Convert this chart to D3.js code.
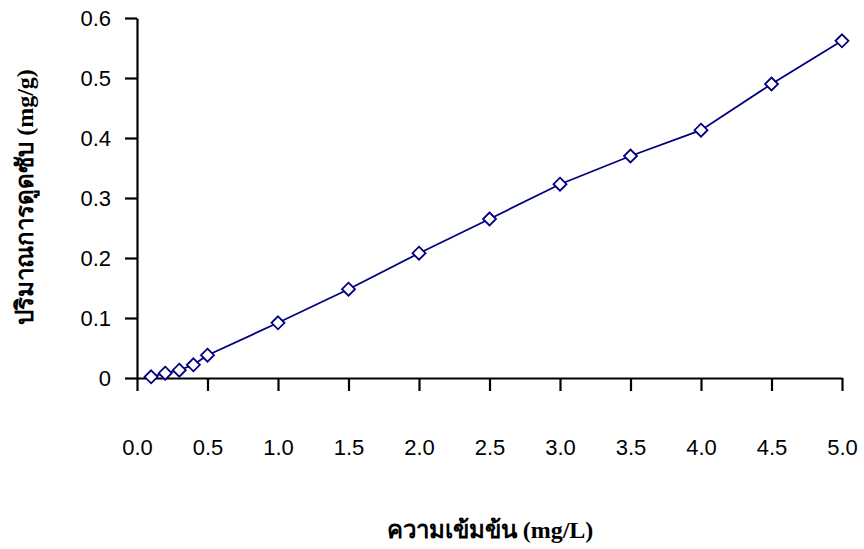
<!DOCTYPE html>
<html>
<head>
<meta charset="utf-8">
<script src="https://cdn.jsdelivr.net/npm/d3@7"></script>
<style>
  body { margin: 0; background: #fff; }
</style>
</head>
<body>
<div id="chart"></div>
<script>
// data
const concentration = [0.1, 0.2, 0.3, 0.4, 0.5, 1.0, 1.5, 2.0, 2.5, 3.0, 3.5, 4.0, 4.5, 5.0];
const adsorbed = [0.002, 0.008, 0.013, 0.022, 0.038, 0.092, 0.148, 0.208, 0.265, 0.323, 0.370, 0.413, 0.490, 0.562];
const xTicks = [0, 0.5, 1.0, 1.5, 2.0, 2.5, 3.0, 3.5, 4.0, 4.5, 5.0];
const yTicks = [0, 0.1, 0.2, 0.3, 0.4, 0.5, 0.6];

const width = 864, height = 549;
const x0 = 137, x1 = 842, y0 = 378, y1 = 18;
const color = "#000080";

const svg = d3.select("#chart").append("svg")
  .attr("width", width)
  .attr("height", height);

const x = d3.scaleLinear().domain([0, 5]).range([x0, x1]);
const y = d3.scaleLinear().domain([0, 0.6]).range([y0, y1]);

// x axis: ticks point down, labels set far below
const xAxis = svg.append("g")
  .attr("transform", `translate(0,${y0})`)
  .call(d3.axisBottom(x).tickValues(xTicks).tickSize(13).tickPadding(48)
    .tickFormat(d3.format(".1f")).tickSizeOuter(0));
xAxis.select(".domain").attr("stroke", "#000").attr("stroke-width", 2.2);
xAxis.selectAll(".tick line").attr("stroke", "#000").attr("stroke-width", 2.2);
xAxis.selectAll(".tick text")
  .attr("font-family", "'Liberation Sans', Arial, sans-serif")
  .attr("font-size", 22)
  .attr("fill", "#000");

// y axis
const yAxis = svg.append("g")
  .attr("transform", `translate(${x0},0)`)
  .call(d3.axisLeft(y).tickValues(yTicks).tickSize(12).tickPadding(14)
    .tickFormat(d => d === 0 ? "0" : d3.format(".1f")(d)).tickSizeOuter(0));
yAxis.select(".domain").attr("stroke", "#000").attr("stroke-width", 2.2);
yAxis.selectAll(".tick line").attr("stroke", "#000").attr("stroke-width", 2.2);
yAxis.selectAll(".tick text")
  .attr("font-family", "'Liberation Sans', Arial, sans-serif")
  .attr("font-size", 22)
  .attr("fill", "#000");

// line
const pts = concentration.map((c, i) => [c, adsorbed[i]]);
svg.append("path")
  .datum(pts)
  .attr("fill", "none")
  .attr("stroke", color)
  .attr("stroke-width", 1.8)
  .attr("d", d3.line().x(d => x(d[0])).y(d => y(d[1])));

// diamond markers
svg.selectAll(".pt")
  .data(pts)
  .join("path")
  .attr("class", "pt")
  .attr("transform", d => `translate(${x(d[0])},${y(d[1])})`)
  .attr("d", "M0,-6.5L6.5,0L0,6.5L-6.5,0Z")
  .attr("fill", "#fff")
  .attr("stroke", color)
  .attr("stroke-width", 1.8);

// axis titles
svg.append("text")
  .attr("x", 490).attr("y", 538)
  .attr("text-anchor", "middle")
  .attr("font-family", "'Liberation Serif', 'Times New Roman', serif")
  .attr("font-weight", "bold")
  .attr("font-size", 24)
  .text("ความเข้มข้น (mg/L)");

svg.append("text")
  .attr("transform", "translate(33,197) rotate(-90)")
  .attr("text-anchor", "middle")
  .attr("font-family", "'Liberation Serif', 'Times New Roman', serif")
  .attr("font-weight", "bold")
  .attr("font-size", 24)
  .text("ปริมาณการดูดซับ (mg/g)");
</script>
</body>
</html>
